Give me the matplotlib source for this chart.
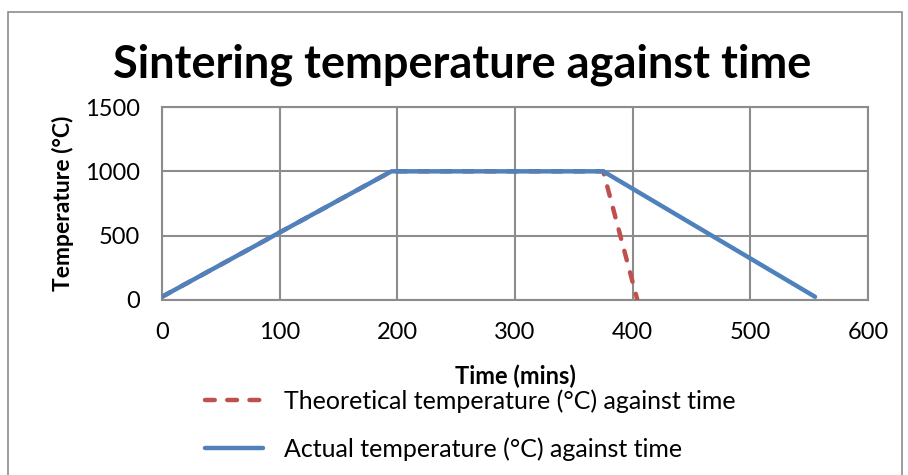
import matplotlib.pyplot as plt
from matplotlib.patches import Rectangle

plt.rcParams["font.family"] = ["Lato", "DejaVu Sans"]

# furnace profile: time (mins) vs temperature (°C)
theory_time = [0, 195, 375, 404]
theory_temp = [25, 1000, 1000, 0]
actual_time = [0, 195, 375, 555]
actual_temp = [25, 1000, 1000, 25]

x_ticks = [0, 100, 200, 300, 400, 500, 600]
y_ticks = [0, 500, 1000, 1500]

red = "#C0504D"
blue = "#4F81BD"
grid = "#8C8C8C"

fig = plt.figure(figsize=(9.08, 4.75), dpi=100)
ax = fig.add_axes([162 / 908, 1 - 300 / 475, (868 - 162) / 908, (300 - 107) / 475])

ax.plot(theory_time, theory_temp, color=red, lw=3.2, ls=(0, (2.2, 2.8)),
        dash_capstyle="round",
        label="Theoretical temperature (°C) against time", zorder=3)
ax.plot(actual_time, actual_temp, color=blue, lw=3.2, solid_capstyle="round",
        label="Actual temperature (°C) against time", zorder=4)

ax.set_xlim(0, 600)
ax.set_ylim(0, 1500)
ax.set_xticks(x_ticks)
ax.set_yticks(y_ticks)
ax.tick_params(length=0, labelsize=17, pad=16)
ax.grid(True, color=grid, lw=1.5)
for s in ax.spines.values():
    s.set_color(grid)
    s.set_linewidth(1.5)

ax.set_xlabel("Time (mins)", fontsize=17, fontweight="bold")
ax.xaxis.set_label_coords(0.5, -(376 - 300) / 193, transform=ax.transAxes)
ax.xaxis.label.set_va("center")
ax.set_ylabel("Temperature (°C)", fontsize=16.5, fontweight="bold")
ax.yaxis.set_label_coords(-(162 - 63) / 706, 0.5)
ax.yaxis.label.set_va("center")

fig.text(462 / 908, 1 - 65 / 475, "Sintering temperature against time",
         ha="center", va="center", fontsize=32.5, fontweight="bold")

fig.legend(loc="upper left", bbox_to_anchor=(205 / 908, 1 - 389 / 475),
           frameon=False, fontsize=18, handlelength=2.3, handletextpad=0.84,
           labelspacing=1.0, borderpad=0, borderaxespad=0)

# chart outline
fig.patches.append(Rectangle((8 / 908, -0.05), (902 - 8) / 908, 1 - 12 / 475 + 0.05,
                             transform=fig.transFigure, fill=False,
                             edgecolor=grid, lw=1.2))

fig.savefig("out.png", dpi=100)
